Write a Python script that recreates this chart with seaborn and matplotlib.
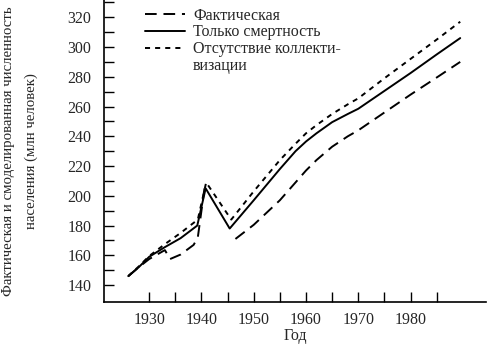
import numpy as np
import pandas as pd
import matplotlib
matplotlib.use("Agg")
import matplotlib.pyplot as plt
from matplotlib.ticker import FixedLocator, NullFormatter
from matplotlib.lines import Line2D
import seaborn as sns

# ---- data ----
fact_years_pre = [1926, 1928, 1930, 1932, 1933, 1934, 1936, 1938.5, 1939.3, 1940, 1940.7]
fact_pre = [146, 152, 157.5, 161.5, 163.5, 157.5, 160.5, 167, 172, 190, 208.5]
fact_years_post = [1946.5, 1950, 1955, 1958, 1960, 1962, 1965, 1968, 1970, 1975, 1980, 1985, 1989.5]
fact_post = [171, 180.5, 197, 209, 217, 224, 233, 240, 244, 256, 268, 279.5, 290]

mort_years = [1926, 1928, 1930, 1933, 1936, 1939.2, 1940.8, 1945.4, 1950, 1955, 1958, 1960,
              1962, 1965, 1968, 1970, 1975, 1980, 1985, 1989.5]
mort = [146, 152, 159, 165.5, 171.5, 180, 205, 178, 197, 218, 230, 236.5,
        242, 249.5, 255, 258.5, 270.5, 282.5, 295, 306]

nocoll_years = [1926, 1928, 1930, 1933, 1936, 1939.3, 1940.9, 1945.7, 1950, 1955, 1958, 1960,
                1962, 1965, 1968, 1970, 1975, 1980, 1985, 1989.5]
nocoll = [146, 152.5, 159.5, 167.5, 175, 184, 209, 184, 203, 224, 235, 242,
          247.5, 255, 261.5, 265.5, 279, 292, 305, 317]

labels = ["Фактическая", "Только смертность", "Отсутствие коллекти-", "визации"]
x_major = [1930, 1940, 1950, 1960, 1970, 1980]
x_minor = [1935, 1945, 1955, 1965, 1975, 1985]
y_major = [140, 160, 180, 200, 220, 240, 260, 280, 300, 320]
y_minor = [150, 170, 190, 210, 230, 250, 270, 290, 310, 330]

# ---- style ----
sns.set_style("ticks")
plt.rcParams["font.family"] = ["Liberation Serif", "DejaVu Serif"]
plt.rcParams["font.size"] = 11.5

fig = plt.figure(figsize=(4.87, 3.44), dpi=100)
ax = fig.add_axes([0.2136, 0.122, 0.784, 0.878])

LW = 1.4
long_dash = (6, 3.5)
short_dash = (2.6, 2.6)

sns.lineplot(x=fact_years_pre, y=fact_pre, ax=ax, color="black", lw=LW,
             estimator=None, sort=False)
sns.lineplot(x=fact_years_post, y=fact_post, ax=ax, color="black", lw=LW,
             estimator=None, sort=False)
sns.lineplot(x=mort_years, y=mort, ax=ax, color="black", lw=LW,
             estimator=None, sort=False)
sns.lineplot(x=nocoll_years, y=nocoll, ax=ax, color="black", lw=LW,
             estimator=None, sort=False)
lines = ax.get_lines()
lines[0].set_dashes(long_dash)
lines[1].set_dashes(long_dash)
lines[3].set_dashes(short_dash)

ax.set_xlim(1921.36, 1994.4)
ax.set_ylim(128.6, 331.6)

ax.xaxis.set_major_locator(FixedLocator(x_major))
ax.xaxis.set_minor_locator(FixedLocator(x_minor))
ax.yaxis.set_major_locator(FixedLocator(y_major))
ax.yaxis.set_minor_locator(FixedLocator(y_minor))
ax.xaxis.set_minor_formatter(NullFormatter())
ax.yaxis.set_minor_formatter(NullFormatter())

ax.tick_params(which="both", direction="in", length=7, width=1.0, color="black")
ax.tick_params(axis="x", which="major", pad=7, labelsize=11.5)
ax.tick_params(axis="y", which="major", pad=9, labelsize=11.5)

for s in ["top", "right"]:
    ax.spines[s].set_visible(False)
for s in ["left", "bottom"]:
    ax.spines[s].set_color("black")
    ax.spines[s].set_linewidth(1.2)

ax.set_xlabel("Год", fontsize=11.5, labelpad=0)
ax.set_ylabel("Фактическая и смоделированная численность\nнаселения (млн человек)",
              fontsize=10.7, linespacing=2.0)
ax.yaxis.set_label_coords(-0.172, 0.5)

handles = [
    Line2D([], [], color="black", lw=LW, dashes=long_dash),
    Line2D([], [], color="black", lw=LW),
    Line2D([], [], color="black", lw=LW, dashes=short_dash),
    Line2D([], [], color="none", lw=0),
]
leg = ax.legend(handles, labels, loc="upper left", bbox_to_anchor=(0.108, 0.975),
                frameon=False, fontsize=11.5, handlelength=2.5, handletextpad=0.5,
                labelspacing=0.05, borderpad=0, borderaxespad=0)

fig.savefig("out.png", dpi=100)
